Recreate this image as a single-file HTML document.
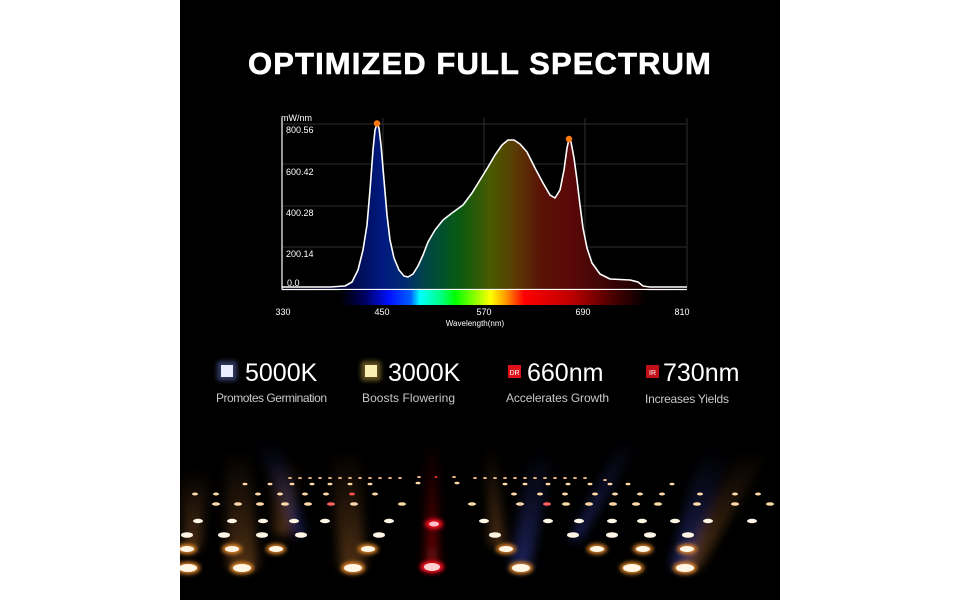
<!DOCTYPE html>
<html><head><meta charset="utf-8"><style>
html,body{margin:0;padding:0;background:#fff;}
.wrap{position:relative;width:960px;height:600px;overflow:hidden;background:#fff;}
svg{position:absolute;left:0;top:0;}
</style></head><body><div class="wrap">
<svg width="960" height="600" viewBox="0 0 960 600" xmlns="http://www.w3.org/2000/svg">
<defs>
<linearGradient id="fillg" gradientUnits="userSpaceOnUse" x1="282" y1="0" x2="687" y2="0">
<stop offset="0" stop-color="#000010"/>
<stop offset="0.155" stop-color="#000540"/>
<stop offset="0.25" stop-color="#001a80"/>
<stop offset="0.304" stop-color="#002a70"/>
<stop offset="0.34" stop-color="#004050"/>
<stop offset="0.39" stop-color="#005030"/>
<stop offset="0.44" stop-color="#0b5a10"/>
<stop offset="0.516" stop-color="#4a5a00"/>
<stop offset="0.577" stop-color="#5a3a05"/>
<stop offset="0.64" stop-color="#5a1205"/>
<stop offset="0.714" stop-color="#5a0808"/>
<stop offset="0.81" stop-color="#3a0505"/>
<stop offset="0.91" stop-color="#150000"/>
<stop offset="1" stop-color="#000"/>
</linearGradient>
<linearGradient id="specg" gradientUnits="userSpaceOnUse" x1="340" y1="0" x2="647" y2="0">
<stop offset="0" stop-color="#000"/>
<stop offset="0.08" stop-color="#000060"/>
<stop offset="0.16" stop-color="#0010ff"/>
<stop offset="0.23" stop-color="#0060ff"/>
<stop offset="0.26" stop-color="#00ffff"/>
<stop offset="0.33" stop-color="#00ff80"/>
<stop offset="0.375" stop-color="#00ff00"/>
<stop offset="0.456" stop-color="#b0ff00"/>
<stop offset="0.49" stop-color="#ffff00"/>
<stop offset="0.537" stop-color="#ffa000"/>
<stop offset="0.6" stop-color="#ff0000"/>
<stop offset="0.75" stop-color="#c00000"/>
<stop offset="0.88" stop-color="#500000"/>
<stop offset="1" stop-color="#000"/>
</linearGradient>
<filter id="bl" x="-50%" y="-50%" width="200%" height="200%"><feGaussianBlur stdDeviation="2"/></filter>
<filter id="bl6" x="-50%" y="-50%" width="200%" height="200%"><feGaussianBlur stdDeviation="5"/></filter>
<linearGradient id="beamO" x1="0" y1="1" x2="0" y2="0"><stop offset="0" stop-color="#ff9a40" stop-opacity="0.3"/><stop offset="1" stop-color="#ff9a40" stop-opacity="0"/></linearGradient>
<linearGradient id="beamB" x1="0" y1="1" x2="0" y2="0"><stop offset="0" stop-color="#5060ff" stop-opacity="0.35"/><stop offset="1" stop-color="#5060ff" stop-opacity="0"/></linearGradient>
<linearGradient id="beamR" x1="0" y1="1" x2="0" y2="0"><stop offset="0" stop-color="#ff1010" stop-opacity="0.5"/><stop offset="1" stop-color="#ff1010" stop-opacity="0"/></linearGradient>
</defs>
<rect x="180" y="0" width="600" height="600" fill="#000"/>
<text x="480" y="74" text-anchor="middle" fill="#fff" font-family="Liberation Sans, sans-serif" font-weight="bold" font-size="31" letter-spacing="1.1" stroke="#fff" stroke-width="0.6">OPTIMIZED FULL SPECTRUM</text>

<g stroke="#2e2e2e" stroke-width="1">
<line x1="282" y1="124" x2="687" y2="124"/><line x1="282" y1="164" x2="687" y2="164"/>
<line x1="282" y1="206" x2="687" y2="206"/><line x1="282" y1="247" x2="687" y2="247"/>
<line x1="383" y1="118" x2="383" y2="289"/><line x1="484" y1="118" x2="484" y2="289"/>
<line x1="585" y1="118" x2="585" y2="289"/><line x1="687" y1="118" x2="687" y2="289"/>
</g>
<polygon fill="url(#fillg)" points="282,287 330,287 345,286 352,282 358,270 363,250 367,225 370,190 373,150 375,130 377,124 379,128 381,145 384,180 387,215 390,240 394,258 399,270 404,276 408,277 413,274 418,266 423,255 428,242 435,230 443,220 452,213 463,205 472,193 480,180 488,167 495,155 502,145 508,140 514,140 520,144 527,152 535,168 543,183 550,195 555,198 560,190 564,170 567,148 569,139 571,142 574,158 577,180 580,205 583,228 587,248 592,263 600,274 610,279 630,280 638,282 643,286 650,287 687,287 687,289 282,289"/>
<polyline fill="none" stroke="#fff" stroke-width="1.6" stroke-linejoin="round" points="282,287 330,287 345,286 352,282 358,270 363,250 367,225 370,190 373,150 375,130 377,124 379,128 381,145 384,180 387,215 390,240 394,258 399,270 404,276 408,277 413,274 418,266 423,255 428,242 435,230 443,220 452,213 463,205 472,193 480,180 488,167 495,155 502,145 508,140 514,140 520,144 527,152 535,168 543,183 550,195 555,198 560,190 564,170 567,148 569,139 571,142 574,158 577,180 580,205 583,228 587,248 592,263 600,274 610,279 630,280 638,282 643,286 650,287 687,287"/>
<line x1="282" y1="118" x2="282" y2="289.5" stroke="#fff" stroke-width="1.2"/>
<line x1="282" y1="289.5" x2="687" y2="289.5" stroke="#fff" stroke-width="1.2"/>
<rect x="340" y="290" width="307" height="15" fill="url(#specg)"/>
<circle cx="377" cy="123.5" r="3.2" fill="#ff7a10"/>
<circle cx="569" cy="139" r="3.2" fill="#ff7a10"/>
<g font-family="Liberation Sans, sans-serif" font-size="9" fill="#fff">
<text x="281" y="121">mW/nm</text>
<text x="286" y="133">800.56</text>
<text x="286" y="175">600.42</text>
<text x="286" y="216">400.28</text>
<text x="286" y="257">200.14</text>
<text x="287" y="286">0.0</text>
<g text-anchor="middle">
<text x="283" y="315">330</text><text x="382" y="315">450</text><text x="484" y="315">570</text><text x="583" y="315">690</text><text x="682" y="315">810</text>
<text x="475" y="326" font-size="8">Wavelength(nm)</text>
</g></g>

<g font-family="Liberation Sans, sans-serif">
<rect x="217" y="361" width="20" height="20" rx="3" fill="#6070c0" opacity="0.5" filter="url(#bl)"/>
<rect x="221" y="365" width="12" height="12" fill="#e8ecff"/>
<rect x="361" y="361" width="20" height="20" rx="3" fill="#c0a040" opacity="0.5" filter="url(#bl)"/>
<rect x="365" y="365" width="12" height="12" fill="#f8f0b0"/>
<rect x="508" y="365" width="13" height="13" fill="#e0101a"/>
<text x="514.5" y="375" font-size="7" fill="#fff" text-anchor="middle">DR</text>
<rect x="646" y="365" width="13" height="13" fill="#c0101a"/>
<text x="652.5" y="375" font-size="7" fill="#fff" text-anchor="middle">IR</text>
<g fill="#fff" font-size="25">
<text x="245" y="381">5000K</text><text x="388" y="381">3000K</text><text x="527" y="381">660nm</text><text x="663" y="381">730nm</text>
</g>
<g fill="#c8c8c8" font-size="12">
<text x="216" y="402" textLength="111">Promotes Germination</text><text x="362" y="402" textLength="93">Boosts Flowering</text><text x="506" y="402" textLength="103">Accelerates Growth</text><text x="645" y="403" textLength="84">Increases Yields</text>
</g></g>

<g filter="url(#bl6)">
<polygon points="255,440 280,440 305,535 295,535" fill="url(#beamB)"/>
<polygon points="620,440 640,440 580,540 570,540" fill="url(#beamB)"/>
<polygon points="225,450 250,450 258,568 228,568" fill="url(#beamO)"/>
<polygon points="330,450 360,450 365,568 340,568" fill="url(#beamO)"/>
<polygon points="485,445 495,445 505,545 490,545" fill="url(#beamO)"/>
<polygon points="428,440 436,440 438,568 426,568" fill="url(#beamR)"/>
<polygon points="530,450 555,450 530,568 510,568" fill="url(#beamB)"/>
<polygon points="700,450 730,450 690,568 670,568" fill="url(#beamB)"/>
<polygon points="740,450 770,450 700,568 680,568" fill="url(#beamO)"/>
<polygon points="180,470 210,470 200,549 185,549" fill="url(#beamO)"/>
<polygon points="270,460 300,460 290,535 275,535" fill="url(#beamO)"/>
</g>
<g filter="url(#bl)">
<g fill="#ff9a30" opacity="0.9">
<ellipse cx="188" cy="568" rx="12" ry="6"/><ellipse cx="242" cy="568" rx="12" ry="6"/><ellipse cx="353" cy="568" rx="12" ry="6"/><ellipse cx="521" cy="568" rx="12" ry="6"/><ellipse cx="632" cy="568" rx="12" ry="6"/><ellipse cx="685" cy="568" rx="12" ry="6"/>
<ellipse cx="187" cy="549" rx="10" ry="5"/><ellipse cx="232" cy="549" rx="10" ry="5"/><ellipse cx="276" cy="549" rx="10" ry="5"/><ellipse cx="368" cy="549" rx="10" ry="5"/><ellipse cx="506" cy="549" rx="10" ry="5"/><ellipse cx="597" cy="549" rx="10" ry="5"/><ellipse cx="643" cy="549" rx="10" ry="5"/><ellipse cx="687" cy="549" rx="10" ry="5"/>
</g>
<ellipse cx="432" cy="567" rx="12" ry="6" fill="#ff1020"/>
<ellipse cx="434" cy="524" rx="9" ry="5" fill="#ff1020"/>
</g>
<g fill="#fff6e6">
<ellipse cx="188" cy="568" rx="9" ry="4"/><ellipse cx="242" cy="568" rx="9" ry="4"/><ellipse cx="353" cy="568" rx="9" ry="4"/><ellipse cx="432" cy="567" rx="8" ry="4" fill="#ffd0d0"/><ellipse cx="521" cy="568" rx="9" ry="4"/><ellipse cx="632" cy="568" rx="9" ry="4"/><ellipse cx="685" cy="568" rx="9" ry="4"/>
<ellipse cx="187" cy="549" rx="7" ry="3"/><ellipse cx="232" cy="549" rx="7" ry="3"/><ellipse cx="276" cy="549" rx="7" ry="3"/><ellipse cx="368" cy="549" rx="7" ry="3"/><ellipse cx="506" cy="549" rx="7" ry="3"/><ellipse cx="597" cy="549" rx="7" ry="3"/><ellipse cx="643" cy="549" rx="7" ry="3"/><ellipse cx="687" cy="549" rx="7" ry="3"/>
<ellipse cx="187" cy="535" rx="6" ry="2.8"/><ellipse cx="224" cy="535" rx="6" ry="2.8"/><ellipse cx="262" cy="535" rx="6" ry="2.8"/><ellipse cx="301" cy="535" rx="6" ry="2.8"/><ellipse cx="379" cy="535" rx="6" ry="2.8"/><ellipse cx="495" cy="535" rx="6" ry="2.8"/><ellipse cx="573" cy="535" rx="6" ry="2.8"/><ellipse cx="612" cy="535" rx="6" ry="2.8"/><ellipse cx="650" cy="535" rx="6" ry="2.8"/><ellipse cx="688" cy="535" rx="6" ry="2.8"/>
<ellipse cx="198" cy="521" rx="5" ry="2.2"/><ellipse cx="232" cy="521" rx="5" ry="2.2"/><ellipse cx="263" cy="521" rx="5" ry="2.2"/><ellipse cx="294" cy="521" rx="5" ry="2.2"/><ellipse cx="325" cy="521" rx="5" ry="2.2"/><ellipse cx="389" cy="521" rx="5" ry="2.2"/><ellipse cx="434" cy="524" rx="5" ry="2.5" fill="#ffc0c8"/><ellipse cx="484" cy="521" rx="5" ry="2.2"/><ellipse cx="548" cy="521" rx="5" ry="2.2"/><ellipse cx="579" cy="521" rx="5" ry="2.2"/><ellipse cx="612" cy="521" rx="5" ry="2.2"/><ellipse cx="642" cy="521" rx="5" ry="2.2"/><ellipse cx="675" cy="521" rx="5" ry="2.2"/><ellipse cx="708" cy="521" rx="5" ry="2.2"/><ellipse cx="752" cy="521" rx="5" ry="2.2"/>
</g>
<g fill="#ffd9a8">
<ellipse cx="216" cy="504" rx="4" ry="1.8"/><ellipse cx="238" cy="504" rx="4" ry="1.8"/><ellipse cx="260" cy="504" rx="4" ry="1.8"/><ellipse cx="285" cy="504" rx="4" ry="1.8"/><ellipse cx="308" cy="504" rx="4" ry="1.8"/><ellipse cx="331" cy="504" rx="4" ry="1.8" fill="#ff6060"/><ellipse cx="354" cy="504" rx="4" ry="1.8"/><ellipse cx="402" cy="504" rx="4" ry="1.8"/><ellipse cx="472" cy="504" rx="4" ry="1.8"/><ellipse cx="520" cy="504" rx="4" ry="1.8"/><ellipse cx="547" cy="504" rx="4" ry="1.8" fill="#ff6060"/><ellipse cx="566" cy="504" rx="4" ry="1.8"/><ellipse cx="589" cy="504" rx="4" ry="1.8"/><ellipse cx="613" cy="504" rx="4" ry="1.8"/><ellipse cx="636" cy="504" rx="4" ry="1.8"/><ellipse cx="658" cy="504" rx="4" ry="1.8"/><ellipse cx="697" cy="504" rx="4" ry="1.8"/><ellipse cx="735" cy="504" rx="4" ry="1.8"/><ellipse cx="770" cy="504" rx="4" ry="1.8"/>
<ellipse cx="195" cy="494" rx="3" ry="1.5"/><ellipse cx="216" cy="494" rx="3" ry="1.5"/><ellipse cx="258" cy="494" rx="3" ry="1.5"/><ellipse cx="280" cy="494" rx="3" ry="1.5"/><ellipse cx="305" cy="494" rx="3" ry="1.5"/><ellipse cx="326" cy="494" rx="3" ry="1.5"/><ellipse cx="352" cy="494" rx="3" ry="1.5" fill="#ff5050"/><ellipse cx="375" cy="494" rx="3" ry="1.5"/><ellipse cx="514" cy="494" rx="3" ry="1.5"/><ellipse cx="540" cy="494" rx="3" ry="1.5"/><ellipse cx="565" cy="494" rx="3" ry="1.5"/><ellipse cx="595" cy="494" rx="3" ry="1.5"/><ellipse cx="615" cy="494" rx="3" ry="1.5"/><ellipse cx="640" cy="494" rx="3" ry="1.5"/><ellipse cx="662" cy="494" rx="3" ry="1.5"/><ellipse cx="700" cy="494" rx="3" ry="1.5"/><ellipse cx="735" cy="494" rx="3" ry="1.5"/><ellipse cx="758" cy="494" rx="3" ry="1.5"/>
<ellipse cx="245" cy="484" rx="2.5" ry="1.3"/><ellipse cx="270" cy="484" rx="2.5" ry="1.3"/><ellipse cx="292" cy="484" rx="2.5" ry="1.3"/><ellipse cx="312" cy="484" rx="2.5" ry="1.3"/><ellipse cx="330" cy="484" rx="2.5" ry="1.3"/><ellipse cx="350" cy="484" rx="2.5" ry="1.3"/><ellipse cx="370" cy="484" rx="2.5" ry="1.3"/><ellipse cx="418" cy="483" rx="2.5" ry="1.3"/><ellipse cx="457" cy="483" rx="2.5" ry="1.3"/><ellipse cx="505" cy="484" rx="2.5" ry="1.3"/><ellipse cx="525" cy="484" rx="2.5" ry="1.3"/><ellipse cx="548" cy="484" rx="2.5" ry="1.3"/><ellipse cx="568" cy="484" rx="2.5" ry="1.3"/><ellipse cx="590" cy="484" rx="2.5" ry="1.3"/><ellipse cx="610" cy="484" rx="2.5" ry="1.3"/><ellipse cx="628" cy="484" rx="2.5" ry="1.3"/><ellipse cx="672" cy="484" rx="2.5" ry="1.3"/>
</g>
<g fill="#ffc890" opacity="0.9">
<ellipse cx="290" cy="478" rx="2" ry="1"/><ellipse cx="300" cy="478" rx="2" ry="1"/><ellipse cx="310" cy="478" rx="2" ry="1"/><ellipse cx="320" cy="478" rx="2" ry="1"/><ellipse cx="330" cy="478" rx="2" ry="1"/><ellipse cx="340" cy="478" rx="2" ry="1"/><ellipse cx="350" cy="478" rx="2" ry="1"/><ellipse cx="360" cy="478" rx="2" ry="1"/><ellipse cx="370" cy="478" rx="2" ry="1"/><ellipse cx="380" cy="478" rx="2" ry="1"/><ellipse cx="390" cy="478" rx="2" ry="1"/><ellipse cx="400" cy="478" rx="2" ry="1"/><ellipse cx="419" cy="477" rx="2" ry="1"/><ellipse cx="436" cy="477" rx="1.5" ry="1" fill="#ff3030"/><ellipse cx="454" cy="477" rx="2" ry="1"/><ellipse cx="475" cy="478" rx="2" ry="1"/><ellipse cx="485" cy="478" rx="2" ry="1"/><ellipse cx="495" cy="478" rx="2" ry="1"/><ellipse cx="505" cy="478" rx="2" ry="1"/><ellipse cx="515" cy="478" rx="2" ry="1"/><ellipse cx="525" cy="478" rx="2" ry="1"/><ellipse cx="535" cy="478" rx="2" ry="1"/><ellipse cx="545" cy="478" rx="2" ry="1"/><ellipse cx="555" cy="478" rx="2" ry="1"/><ellipse cx="565" cy="478" rx="2" ry="1"/><ellipse cx="575" cy="478" rx="2" ry="1"/><ellipse cx="585" cy="478" rx="2" ry="1"/><ellipse cx="605" cy="480" rx="2" ry="1"/>
</g>
<rect x="0" y="0" width="180" height="600" fill="#fff"/>
<rect x="780" y="0" width="180" height="600" fill="#fff"/>
</svg>
</div></body></html>
